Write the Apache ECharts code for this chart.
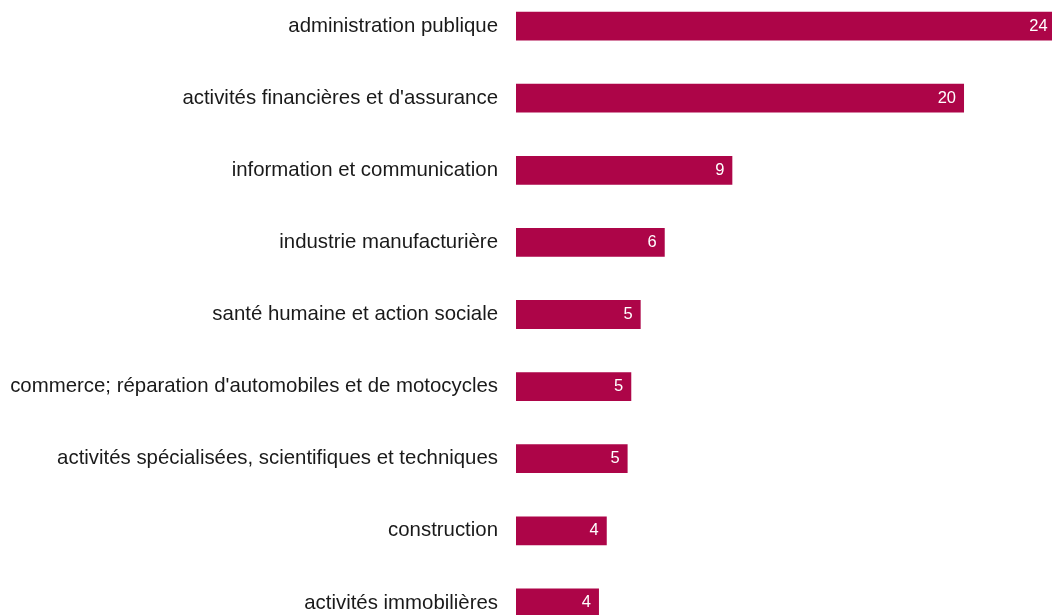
<!DOCTYPE html>
<html>
<head>
<meta charset="utf-8">
<script src="https://cdn.jsdelivr.net/npm/echarts@6/dist/echarts.min.js"></script>
<style>
html,body{margin:0;padding:0;background:#fff;}
#chart{width:1052px;height:615px;}
</style>
</head>
<body>
<div id="chart"></div>
<script>
const categories = [
  "administration publique",
  "activités financières et d'assurance",
  "information et communication",
  "industrie manufacturière",
  "santé humaine et action sociale",
  "commerce; réparation d'automobiles et de motocycles",
  "activités spécialisées, scientifiques et techniques",
  "construction",
  "activités immobilières"
];
const values = [23.55, 19.55, 9.44, 6.49, 5.44, 5.03, 4.87, 3.96, 3.62];

const chart = echarts.init(document.getElementById('chart'), null, {renderer: 'canvas'});
chart.setOption({
  animation: false,
  grid: {left: 516, top: -10, width: 550, height: 649, containLabel: false, outerBoundsMode: 'none'},
  xAxis: {
    type: 'value', min: 0, max: 24, show: false
  },
  yAxis: {
    type: 'category', data: categories, inverse: true,
    axisLine: {show: false}, axisTick: {show: false}, splitLine: {show: false},
    axisLabel: {
      margin: 18, color: '#1a1a1a', fontSize: 20.4,
      fontFamily: 'Liberation Sans, Arial, sans-serif'
    }
  },
  series: [{
    type: 'bar', data: values, barWidth: 28.8,
    itemStyle: {color: '#AD0548'},
    label: {
      show: true, position: 'insideRight', distance: 8,
      color: '#ffffff', fontSize: 16.5,
      fontFamily: 'Liberation Sans, Arial, sans-serif',
      formatter: p => Math.round(p.value)
    }
  }]
});
</script>
</body>
</html>
